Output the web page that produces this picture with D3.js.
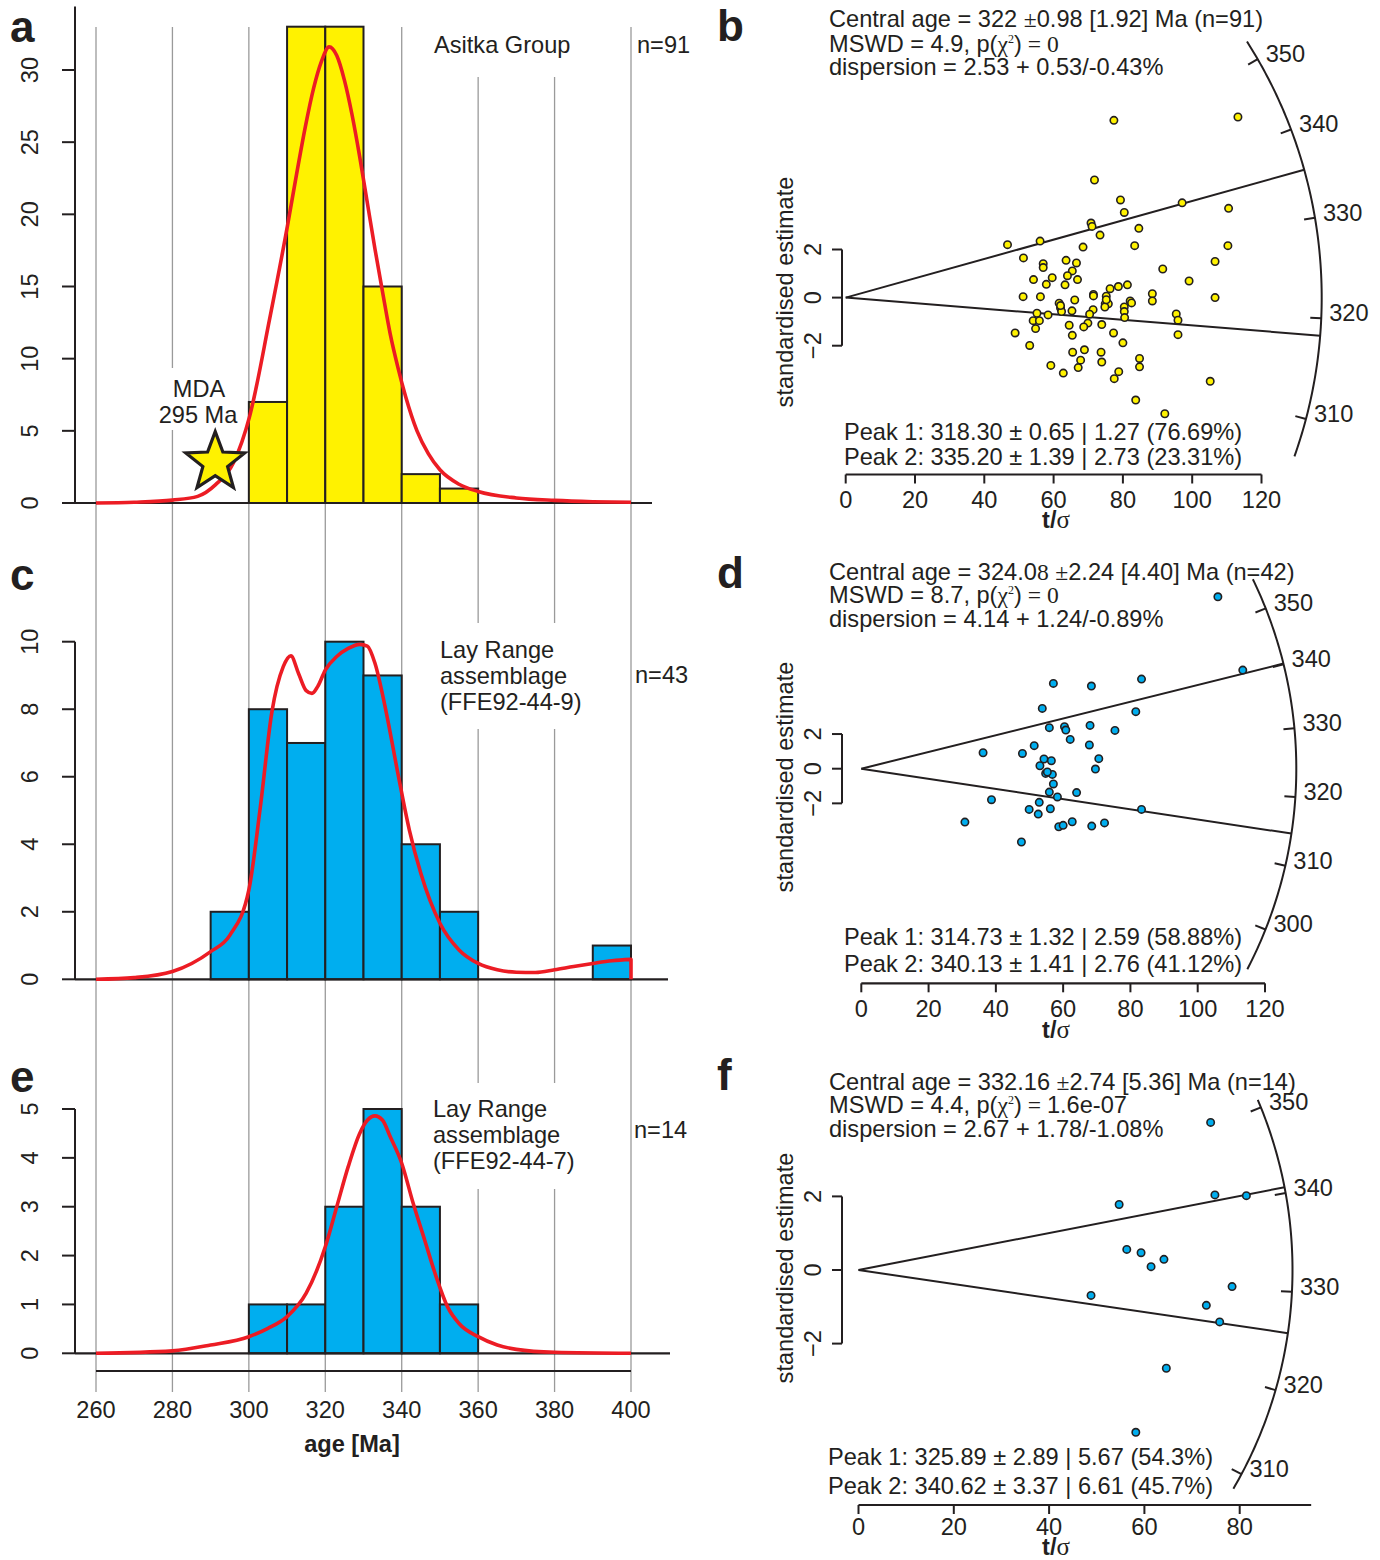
<!DOCTYPE html>
<html>
<head>
<meta charset="utf-8">
<script src="https://cdn.jsdelivr.net/npm/d3@7"></script>
<style>
  body { margin: 0; background: #fff; }
  svg text { font-family: "Liberation Sans", Arial, Helvetica, sans-serif; fill: #231f20; }
</style>
</head>
<body>
<svg id="fig" width="1380" height="1560"></svg>
<script>
// ---------------- data ----------------
const ageTicks = [260, 280, 300, 320, 340, 360, 380, 400];
const binWidth = 10;

// Asitka Group (n=91)
const asitkaBinStart = [300, 310, 320, 330, 340, 350];
const asitkaCounts   = [7, 33, 33, 15, 2, 1];
const asitkaKde = [[260,0],[270,0.05],[280,0.2],[286.6,0.46],[291.3,1.27],[296,2.8],[300.2,6.0],
  [305.4,12.7],[310.1,19.2],[312.5,22.8],[314.8,26.1],[317,28.8],[319,30.6],[321,31.6],[323,31.0],
  [325,29.3],[327,26.9],[329,24.0],[331,20.8],[333,17.6],[335,14.6],[337,11.7],[339,9.4],[341,7.4],
  [344,5.0],[347,3.4],[350,2.3],[355,1.3],[360,0.8],[370,0.35],[380,0.18],[390,0.09],[400,0.05]];
const mdaStar = [291.2, 2.8];

// Lay Range assemblage FFE92-44-9 (n=43)
const lay9BinStart = [290, 300, 310, 320, 330, 340, 350, 390];
const lay9Counts   = [2, 8, 7, 10, 9, 4, 2, 1];
const lay9Kde = [[260,0],[270,0.05],[280,0.23],[290,0.82],[295,1.3],[300,2.65],[303,5.1],[306,7.9],
  [309,9.26],[311,9.58],[313,9.06],[315,8.55],[316.5,8.47],[318,8.67],[320,9.16],[323,9.56],[326,9.8],
  [329,9.92],[331,9.87],[333,9.36],[336,7.88],[339,6.1],[342,4.42],[345,3.14],[350,1.66],[355,0.87],
  [360,0.47],[365,0.28],[370,0.21],[375,0.2],[380,0.28],[385,0.38],[390,0.47],[395,0.55],[400,0.59]];

// Lay Range assemblage FFE92-44-7 (n=14)
const lay7BinStart = [300, 310, 320, 330, 340, 350];
const lay7Counts   = [1, 1, 3, 5, 3, 1];
const lay7Kde = [[260,0],[280,0.05],[290,0.17],[300,0.34],[305,0.51],[310,0.75],[315,1.23],[320,2.18],
  [323,3.0],[326,3.82],[329,4.5],[331,4.77],[333,4.86],[335,4.77],[337,4.43],[340,3.89],[343,3.07],
  [346,2.32],[349,1.57],[352,0.95],[355,0.61],[360,0.34],[365,0.17],[370,0.08],[380,0.02],[400,0]];

// Radial plot points: [t/sigma, standardised estimate]
const asitkaRadial = [[77.4,7.37],[113.2,7.51],[71.8,4.89],[79.3,4.06],[97.1,3.94],[80.4,3.54],[110.5,3.71],
  [70.8,3.1],[71.1,2.96],[84.6,2.88],[73.4,2.6],[46.7,2.2],[56.1,2.35],[68.5,2.1],[83.4,2.16],[110.3,2.16],
  [51.3,1.65],[63.6,1.55],[66.6,1.44],[57.0,1.41],[57.0,1.25],[65.4,1.11],[91.5,1.19],[106.6,1.5],
  [64.0,0.91],[59.6,0.83],[66.9,0.75],[54.2,0.75],[57.9,0.55],[99.1,0.69],[63.3,0.53],[81.3,0.53],
  [78.7,0.46],[76.3,0.37],[71.5,0.13],[71.5,0.07],[75.2,0.06],[88.5,0.16],[88.5,-0.14],[106.6,0.0],
  [51.2,0.04],[56.2,0.04],[66.1,-0.1],[61.6,-0.23],[62.0,-0.43],[62.3,-0.58],[65.3,-0.55],[74.9,-0.26],
  [75.8,-0.26],[74.8,-0.39],[71.4,-0.5],[82.1,-0.14],[82.5,-0.22],[80.4,-0.39],[80.4,-0.58],[80.5,-0.83],
  [70.4,-0.69],[55.2,-0.65],[58.4,-0.72],[95.4,-0.68],[95.9,-0.94],[54.1,-0.96],[55.9,-0.96],[69.9,-1.06],
  [64.5,-1.15],[68.7,-1.22],[73.9,-1.12],[54.8,-1.29],[48.9,-1.47],[65.4,-1.57],[77.3,-1.47],[95.9,-1.54],
  [53.1,-1.99],[80.0,-1.88],[65.5,-2.27],[68.9,-2.17],[73.7,-2.27],[84.8,-2.53],[84.8,-2.88],[59.2,-2.82],
  [67.8,-2.6],[67.1,-2.91],[73.9,-2.68],[62.8,-3.14],[78.8,-3.08],[77.5,-3.37],[105.2,-3.48],[83.7,-4.26],
  [92.1,-4.83],[75.2,-0.09],[62.0,-0.33]];
const lay9Radial = [[106.0,9.92],[113.4,5.69],[83.3,5.17],[57.1,4.92],[68.4,4.77],[53.8,3.48],[81.6,3.29],
  [55.9,2.37],[60.4,2.42],[60.8,2.23],[68.0,2.5],[75.4,2.21],[62.1,1.69],[51.4,1.33],[67.8,1.37],
  [36.2,0.92],[47.9,0.88],[54.3,0.56],[56.5,0.46],[53.1,0.17],[70.6,0.58],[69.6,-0.02],[54.8,-0.27],
  [56.8,-0.33],[57.1,-0.88],[55.9,-1.35],[64.0,-1.38],[58.3,-1.63],[38.7,-1.79],[52.9,-1.94],[49.9,-2.35],
  [56.2,-2.31],[83.3,-2.35],[52.6,-2.62],[30.8,-3.08],[62.7,-3.06],[58.7,-3.35],[60.0,-3.27],[68.5,-3.31],
  [72.3,-3.13],[47.6,-4.23],[55.3,-0.19]];
const lay7Radial = [[73.9,4.01],[54.7,1.78],[74.8,2.04],[81.4,2.02],[56.3,0.56],[59.3,0.47],[61.4,0.09],
  [64.1,0.29],[48.8,-0.69],[78.4,-0.45],[73.0,-0.96],[75.8,-1.41],[64.6,-2.67],[58.2,-4.41]];

// Central ages, mixture-model peaks and age ranges of the arcs
const centralAges = [322, 324.08, 332.16];
const peakAges = [[318.30, 335.20], [314.73, 340.13], [325.89, 340.62]];
const arcRanges = [[306, 353], [293, 356], [308, 351]];
const arcTicks = [[310, 320, 330, 340, 350], [300, 310, 320, 330, 340, 350], [310, 320, 330, 340, 350]];
const tsTicks = [[0, 20, 40, 60, 80, 100, 120], [0, 20, 40, 60, 80, 100, 120], [0, 20, 40, 60, 80]];
const zTicks = [-2, 0, 2];

// ---------------- styles ----------------
const INK = "#231f20", GRID = "#9a9a9a", RED = "#ec1c24", YELLOW = "#fff200", BLUE = "#00aeef";
const FS = 23.6;
const svg = d3.select("#fig");

// ---------------- age histograms (left column) ----------------
const xAge = d3.scaleLinear().domain([260, 400]).range([96, 631]);
const gridTop = 27, gridBottom = 1392, ageAxisY = 1371, yAxisX = 75;

svg.append("g").selectAll("line").data(ageTicks).join("line")
  .attr("x1", d => xAge(d)).attr("x2", d => xAge(d))
  .attr("y1", gridTop).attr("y2", gridBottom)
  .attr("stroke", GRID).attr("stroke-width", 1.3);

// white label boxes that break the grid behind annotations
const boxes = svg.append("g");
[[405, 0, 200, 77], [155, 368, 88, 62], [430, 623, 170, 106], [425, 1083, 170, 106]].forEach(b =>
  boxes.append("rect").attr("x", b[0]).attr("y", b[1]).attr("width", b[2]).attr("height", b[3]).attr("fill", "#fff"));

const histPanels = [
  { letter: "a", letterY: 42, starts: asitkaBinStart, counts: asitkaCounts, kde: asitkaKde, fill: YELLOW,
    yDom: [0, 30], yRng: [503, 70], yTicks: d3.range(0, 31, 5), axisTop: 34.4, baseEnd: 652,
    lines: [["Asitka Group", 434, 53]], n: ["n=91", 637, 53] },
  { letter: "c", letterY: 590, starts: lay9BinStart, counts: lay9Counts, kde: lay9Kde, fill: BLUE,
    yDom: [0, 10], yRng: [979.3, 641.7], yTicks: d3.range(0, 11, 2), axisTop: 10, baseEnd: 668, dropEnd: true,
    lines: [["Lay Range", 440, 658], ["assemblage", 440, 684], ["(FFE92-44-9)", 440, 710]], n: ["n=43", 635, 683] },
  { letter: "e", letterY: 1092, starts: lay7BinStart, counts: lay7Counts, kde: lay7Kde, fill: BLUE,
    yDom: [0, 5], yRng: [1353.3, 1109], yTicks: d3.range(0, 6, 1), axisTop: 5, baseEnd: 670,
    lines: [["Lay Range", 433, 1117], ["assemblage", 433, 1143], ["(FFE92-44-7)", 433, 1169]], n: ["n=14", 634, 1138] }
];

histPanels.forEach(p => {
  const y = d3.scaleLinear().domain(p.yDom).range(p.yRng);
  const g = svg.append("g");

  g.selectAll("rect.bar").data(p.starts.map((s, i) => [s, p.counts[i]])).join("rect")
    .attr("x", d => xAge(d[0])).attr("width", d => xAge(d[0] + binWidth) - xAge(d[0]))
    .attr("y", d => y(d[1])).attr("height", d => y(0) - y(d[1]))
    .attr("fill", p.fill).attr("stroke", INK).attr("stroke-width", 2);

  // axes
  g.append("line").attr("x1", yAxisX).attr("x2", yAxisX).attr("y1", y(0)).attr("y2", y(p.axisTop))
    .attr("stroke", INK).attr("stroke-width", 2);
  g.append("line").attr("x1", yAxisX).attr("x2", p.baseEnd).attr("y1", y(0)).attr("y2", y(0))
    .attr("stroke", INK).attr("stroke-width", 2.2);
  g.selectAll("line.tk").data(p.yTicks).join("line").attr("class", "tk")
    .attr("x1", yAxisX - 13).attr("x2", yAxisX).attr("y1", d => y(d)).attr("y2", d => y(d))
    .attr("stroke", INK).attr("stroke-width", 2);
  g.selectAll("text.tl").data(p.yTicks).join("text").attr("class", "tl")
    .attr("transform", d => `translate(30,${y(d)}) rotate(-90)`)
    .attr("text-anchor", "middle").attr("dominant-baseline", "central")
    .attr("font-size", FS).text(d => d);

  // density curve
  const line = d3.line().x(d => xAge(d[0])).y(d => y(d[1])).curve(d3.curveMonotoneX);
  let path = line(p.kde);
  if (p.dropEnd) {
    const last = p.kde[p.kde.length - 1];
    path += `L${xAge(last[0])},${y(0)}`;
  }
  g.append("path").attr("d", path).attr("fill", "none").attr("stroke", RED)
    .attr("stroke-width", 3.6).attr("stroke-linejoin", "round");

  // annotations
  p.lines.forEach(l => g.append("text").attr("x", l[1]).attr("y", l[2]).attr("font-size", FS).text(l[0]));
  g.append("text").attr("x", p.n[1]).attr("y", p.n[2]).attr("font-size", FS).text(p.n[0]);
  g.append("text").attr("x", 10).attr("y", p.letterY).attr("font-size", 44).attr("font-weight", "bold").text(p.letter);

  if (p.letter === "a") {
    // maximum depositional age marker
    const cx = xAge(mdaStar[0]), cy = y(mdaStar[1]);
    const R = 31, r = 13;
    const pts = d3.range(10).map(i => {
      const a = -Math.PI / 2 + i * Math.PI / 5, rad = i % 2 ? r : R;
      return [cx + rad * Math.cos(a), cy + rad * Math.sin(a)];
    });
    g.append("path").attr("d", "M" + pts.join("L") + "Z")
      .attr("fill", YELLOW).attr("stroke", INK).attr("stroke-width", 3.2).attr("stroke-linejoin", "miter");
    g.append("text").attr("x", 199).attr("y", 397).attr("text-anchor", "middle").attr("font-size", FS).text("MDA");
    g.append("text").attr("x", 198).attr("y", 423).attr("text-anchor", "middle").attr("font-size", FS).text("295 Ma");
  }
});

// shared age axis
const ageAxis = svg.append("g");
ageAxis.append("line").attr("x1", xAge(260)).attr("x2", xAge(400)).attr("y1", ageAxisY).attr("y2", ageAxisY)
  .attr("stroke", INK).attr("stroke-width", 2);
ageAxis.selectAll("text").data(ageTicks).join("text")
  .attr("x", d => xAge(d)).attr("y", 1418).attr("text-anchor", "middle").attr("font-size", FS).text(d => d);
svg.append("text").attr("x", 352).attr("y", 1452).attr("text-anchor", "middle")
  .attr("font-size", FS).attr("font-weight", "bold").text("age [Ma]");

// ---------------- radial plots (right column) ----------------
const SERIF = "'Liberation Serif', 'Times New Roman', serif";
const radialPanels = [
  { letter: "b", letterY: 41, pts: asitkaRadial, fill: YELLOW, k: 0,
    xRng: [845.7, 845.7 + 120 * 3.465], yOrigin: 297.6, syUnit: 24.05, R: 476, axisEnd: 120, axisY: 474.5,
    tickDy: 33, titleDy: 53,
    statY: [27, 51.5, 75], peakY: [440, 464.5], labY: 292,
    central: [["Central age = 322 "], ["±", SERIF], ["0.98 [1.92] Ma (n=91)"]],
    mswd: "4.9", p: [[" = 0", SERIF]], disp: "dispersion = 2.53 + 0.53/-0.43%",
    peaks: ["Peak 1: 318.30 ± 0.65 | 1.27 (76.69%)", "Peak 2: 335.20 ± 1.39 | 2.73 (23.31%)"], peakX: 844 },
  { letter: "d", letterY: 588, pts: lay9Radial, fill: BLUE, k: 1,
    xRng: [861.3, 861.3 + 120 * 3.364], yOrigin: 768.7, syUnit: 17.33, R: 435, axisEnd: 120, axisY: 983.3,
    tickDy: 34, titleDy: 55,
    statY: [579.5, 603, 627], peakY: [945, 971.5], labY: 777,
    central: [["Central age = 324.0"], ["8", SERIF], [" "], ["±", SERIF], ["2.24 [4.40] Ma (n=42)"]],
    mswd: "8.7", p: [[" = 0", SERIF]], disp: "dispersion = 4.14 + 1.24/-0.89%",
    peaks: ["Peak 1: 314.73 ± 1.32 | 2.59 (58.88%)", "Peak 2: 340.13 ± 1.41 | 2.76 (41.12%)"], peakX: 844 },
  { letter: "f", letterY: 1090, pts: lay7Radial, fill: BLUE, k: 2,
    xRng: [858.5, 858.5 + 120 * 4.765], yOrigin: 1270, syUnit: 36.8, R: 434, axisEnd: 95, axisY: 1505,
    tickDy: 30, titleDy: 50,
    statY: [1089.5, 1113, 1136.5], peakY: [1464.5, 1493.5], labY: 1268,
    central: [["Central age = 332.16 "], ["±", SERIF], ["2.74 [5.36] Ma (n=14)"]],
    mswd: "4.4", p: [[" = ", SERIF], ["1.6e-07"]], disp: "dispersion = 2.67 + 1.78/-1.08%",
    peaks: ["Peak 1: 325.89 ± 2.89 | 5.67 (54.3%)", "Peak 2: 340.62 ± 3.37 | 6.61 (45.7%)"], peakX: 828 }
];

function addSegments(text, segs) {
  segs.forEach(s => {
    const t = text.append("tspan").text(s[0]);
    if (s[1]) t.style("font-family", s[1]);
  });
}

radialPanels.forEach(p => {
  const g = svg.append("g");
  const t0 = centralAges[p.k];
  const xs = d3.scaleLinear().domain([0, 120]).range(p.xRng);
  const ys = d3.scaleLinear().domain([-1, 1]).range([p.yOrigin + p.syUnit, p.yOrigin - p.syUnit]);
  const ox = xs(0), oy = ys(0);

  // point on the arc for a given age
  const arcPt = (age, rad) => {
    const dx = xs(1) - xs(0), dy = ys(Math.log(age / t0)) - ys(0);
    const len = Math.hypot(dx, dy);
    return [ox + rad * dx / len, oy + rad * dy / len];
  };

  // age arc
  const [a0, a1] = arcRanges[p.k];
  const arcAges = d3.range(0, 101).map(i => a0 + (a1 - a0) * i / 100);
  g.append("path").attr("d", d3.line()(arcAges.map(a => arcPt(a, p.R))))
    .attr("fill", "none").attr("stroke", INK).attr("stroke-width", 2);
  arcTicks[p.k].forEach(a => {
    const o = arcPt(a, p.R), i = arcPt(a, p.R - 11);
    g.append("line").attr("x1", o[0]).attr("y1", o[1]).attr("x2", i[0]).attr("y2", i[1])
      .attr("stroke", INK).attr("stroke-width", 2);
    g.append("text").attr("x", o[0] + 8).attr("y", o[1] - 5).attr("dominant-baseline", "central")
      .attr("font-size", FS).text(a);
  });

  // peak rays
  peakAges[p.k].forEach(a => {
    const e = arcPt(a, p.R);
    g.append("line").attr("x1", ox).attr("y1", oy).attr("x2", e[0]).attr("y2", e[1])
      .attr("stroke", INK).attr("stroke-width", 2);
  });

  // points
  g.selectAll("circle").data(p.pts).join("circle")
    .attr("cx", d => xs(d[0])).attr("cy", d => ys(d[1])).attr("r", 3.7)
    .attr("fill", p.fill).attr("stroke", INK).attr("stroke-width", 1.6);

  // t/sigma axis
  const ax = g.append("g");
  ax.append("line").attr("x1", ox).attr("x2", xs(p.axisEnd)).attr("y1", p.axisY).attr("y2", p.axisY)
    .attr("stroke", INK).attr("stroke-width", 2.2);
  ax.selectAll("line.tk").data(tsTicks[p.k]).join("line").attr("class", "tk")
    .attr("x1", d => xs(d)).attr("x2", d => xs(d)).attr("y1", p.axisY).attr("y2", p.axisY + 9)
    .attr("stroke", INK).attr("stroke-width", 2);
  ax.selectAll("text").data(tsTicks[p.k]).join("text")
    .attr("x", d => xs(d)).attr("y", p.axisY + p.tickDy).attr("text-anchor", "middle").attr("font-size", FS).text(d => d);
  const tl = g.append("text").attr("x", 1056).attr("y", p.axisY + p.titleDy).attr("text-anchor", "middle").attr("font-size", FS);
  tl.append("tspan").attr("font-weight", "bold").text("t/");
  tl.append("tspan").style("font-family", SERIF).attr("font-size", 25).text("σ");

  // standardised estimate axis
  const zx = 842;
  g.append("line").attr("x1", zx).attr("x2", zx).attr("y1", ys(2)).attr("y2", ys(-2))
    .attr("stroke", INK).attr("stroke-width", 2);
  g.selectAll("line.zt").data(zTicks).join("line").attr("class", "zt")
    .attr("x1", zx - 10).attr("x2", zx).attr("y1", d => ys(d)).attr("y2", d => ys(d))
    .attr("stroke", INK).attr("stroke-width", 2);
  g.selectAll("text.zl").data(zTicks).join("text").attr("class", "zl")
    .attr("transform", d => `translate(813,${ys(d)}) rotate(-90)`)
    .attr("text-anchor", "middle").attr("dominant-baseline", "central").attr("font-size", FS)
    .text(d => d < 0 ? "\u2212" + Math.abs(d) : d);
  g.append("text").attr("transform", `translate(785,${p.labY}) rotate(-90)`)
    .attr("text-anchor", "middle").attr("dominant-baseline", "central").attr("font-size", FS)
    .text("standardised estimate");

  // statistics
  const c = g.append("text").attr("x", 829).attr("y", p.statY[0]).attr("font-size", FS);
  addSegments(c, p.central);
  const m = g.append("text").attr("x", 829).attr("y", p.statY[1]).attr("font-size", FS);
  addSegments(m, [["MSWD = " + p.mswd + ", p("], ["χ", SERIF]]);
  m.append("tspan").attr("font-size", 12).attr("dy", -9).style("font-family", SERIF).text("2");
  m.append("tspan").attr("dy", 9).text(")");
  addSegments(m, p.p);
  g.append("text").attr("x", 829).attr("y", p.statY[2]).attr("font-size", FS).text(p.disp);
  p.peaks.forEach((s, i) => g.append("text").attr("x", p.peakX).attr("y", p.peakY[i]).attr("font-size", FS).text(s));

  g.append("text").attr("x", 717).attr("y", p.letterY).attr("font-size", 44).attr("font-weight", "bold").text(p.letter);
});
</script>
</body>
</html>
